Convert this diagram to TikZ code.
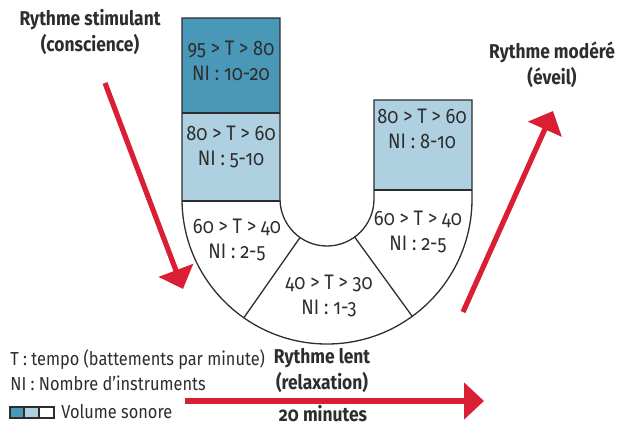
\documentclass[tikz,border=0pt]{standalone}
\usepackage{fontspec}
\setmainfont{Fira Sans}[Numbers=OldStyle, FakeStretch=0.87]
\usepackage{tikz}
\usetikzlibrary{arrows.meta,positioning,calc}
\definecolor{volfort}{RGB}{74,152,184}
\definecolor{volmoyen}{RGB}{175,208,224}
\definecolor{rouge}{RGB}{218,30,52}
\definecolor{texte}{RGB}{45,45,45}

\begin{document}
\begin{tikzpicture}[x=0.5pt,y=0.5pt,
  tranche/.style={font=\fontsize{10.5}{12.5}\selectfont, text=texte, align=center, inner sep=0pt},
  rythme/.style={font=\bfseries\fontsize{10}{13}\selectfont, text=texte, align=center, inner sep=0pt},
  duree/.style={font=\bfseries\fontsize{10}{13}\selectfont, text=texte, inner sep=0pt, anchor=base},
  legende/.style={font=\fontsize{9.4}{11.5}\selectfont, text=texte, anchor=west, inner sep=0pt},
  fleche/.style={rouge, line width=2.6pt, -{Triangle[length=10pt,width=18pt]}}]
  \useasboundingbox (0,0) rectangle (619,425);
  \coordinate (c) at (327,226);
  % le U
  \fill[volfort] (182,407) rectangle (280,312);
  \fill[volmoyen] (182,312) rectangle (280,224);
  \fill[volmoyen] (374,325) rectangle (472,235);
  \draw[texte, line width=0.65pt] (182,407) -- (182,226) arc[start angle=180, end angle=360, radius=72.5pt]
    -- (472,325) -- (374,325) -- (374,226) arc[start angle=0, end angle=-180, radius=23.5pt]
    -- (280,407) -- cycle;
  \draw[texte, line width=0.65pt] (182,312) -- (280,312);
  \draw[texte, line width=0.65pt] (182,224) -- (280,224);
  \draw[texte, line width=0.65pt] (374,235) -- (472,235);
  \draw[texte, line width=0.65pt] ($(c)+(-125:23.5pt)$) -- ($(c)+(-125:72.5pt)$);
  \draw[texte, line width=0.65pt] ($(c)+(-54:23.5pt)$) -- ($(c)+(-54:72.5pt)$);
  \node[tranche] (t95) at (231,364) {95 > T > 80\\NI : 10-20};
  \node[tranche] (t80g) at (231,278) {80 > T > 60\\NI : 5-10};
  \node[tranche] (t60g) at (237,185) {60 > T > 40\\NI : 2-5};
  \node[tranche] (t40) at (329,129) {40 > T > 30\\NI : 1-3};
  \node[tranche] (t60d) at (418,193) {60 > T > 40\\NI : 2-5};
  \node[tranche] (t80d) at (422,296) {80 > T > 60\\NI : 8-10};
  % rythmes
  \node[rythme] (stim) at (90,393) {Rythme stimulant\\(conscience)};
  \node[rythme] (modere) at (552,360) {Rythme modéré\\(éveil)};
  \node[rythme] (lent) at (322,55) {Rythme lent\\(relaxation)};
  \node[duree] (duree) at (323,4) {20 minutes};
  \coordinate (a1) at (105,342);
  \coordinate (b1) at (183,136);
  \coordinate (a2) at (463,113);
  \coordinate (b2) at (553,314);
  \coordinate (a3) at (185,24);
  \coordinate (b3) at (484,24);
  \draw[fleche] (a1) -- (b1);
  \draw[fleche] (a2) -- (b2);
  \draw[fleche] (a3) -- (b3);
  % legende
  \node[legende] (tempo) at (10,65) {T : tempo (battements par minute)};
  \node[legende] (instr) at (10,42) {NI : Nombre d’instruments};
  \draw[texte, fill=volfort, line width=0.6pt] (10,7) rectangle (24,18);
  \draw[texte, fill=volmoyen, line width=0.6pt] (24,7) rectangle (39,18);
  \draw[texte, fill=white, line width=0.6pt] (39,7) rectangle (54,18);
  \node[legende] (volume) at (61,13) {Volume sonore};
\end{tikzpicture}
\end{document}
